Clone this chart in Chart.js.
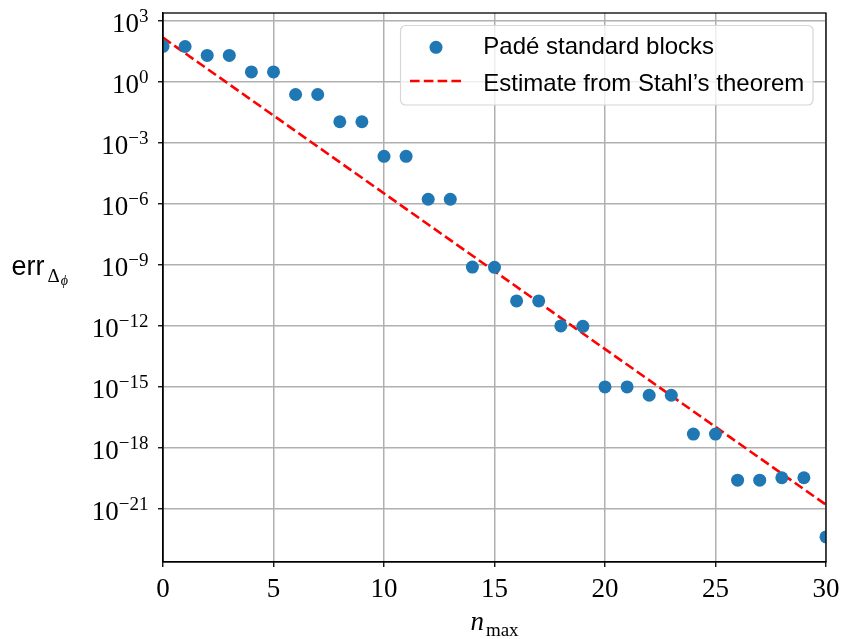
<!DOCTYPE html>
<html>
<head>
<meta charset="utf-8">
<script src="https://cdn.jsdelivr.net/npm/chart.js@4.4.1/dist/chart.umd.min.js"></script>
<style>
  html, body { margin: 0; padding: 0; background: #fff; }
  #wrap { width: 842px; height: 639px; }
</style>
</head>
<body>
<div id="wrap"><canvas id="errChart" width="842" height="639"></canvas></div>
<script>
// values
const nMax = [0, 1, 2, 3, 4, 5, 6, 7, 8, 9, 10, 11, 12, 13, 14, 15,
  16, 17, 18, 19, 20, 21, 22, 23, 24, 25, 26, 27, 28, 29, 30];
const padeErr = [56, 55, 20, 20, 3.1, 3.1, 0.24, 0.24, 1.1e-2, 1.1e-2,
  2.2e-4, 2.2e-4, 1.7e-6, 1.7e-6, 7.8e-10, 7.6e-10, 1.7e-11, 1.7e-11,
  1.0e-12, 9.5e-13, 1.0e-15, 1.0e-15, 3.9e-16, 3.9e-16, 4.8e-18, 4.8e-18,
  2.6e-20, 2.6e-20, 3.4e-20, 3.4e-20, 4.2e-23];
const stahlN = [0, 30];
const stahlErr = [1.5e2, 1.6e-21];

const xTicks = [0, 5, 10, 15, 20, 25, 30];
const yTicks = [1e3, 1e0, 1e-3, 1e-6, 1e-9, 1e-12, 1e-15, 1e-18, 1e-21];
const yMin = 2.45e-24;
const yMax = 2.45e3;

const serif = '"Liberation Serif", "DejaVu Serif", serif';
const sans = '"Liberation Sans", "DejaVu Sans", sans-serif';
const blue = '#1f77b4';
const dash = [9.6, 4.2];

const labels = {
  id: 'labels',
  afterDraw(chart) {
    const { ctx, chartArea: a, scales: { x, y } } = chart;
    ctx.save();
    ctx.strokeStyle = '#000';
    ctx.lineWidth = 1.3;
    ctx.strokeRect(a.left, a.top, a.right - a.left, a.bottom - a.top);

    ctx.fillStyle = '#000';
    ctx.textBaseline = 'alphabetic';

    // x tick labels
    ctx.font = '27px ' + serif;
    ctx.textAlign = 'center';
    for (const t of xTicks) ctx.fillText(String(t), x.getPixelForValue(t), a.bottom + 35);

    // y tick labels 10^e
    ctx.textAlign = 'left';
    const right = a.left - 14.5;
    for (const v of yTicks) {
      const e = Math.round(Math.log10(v));
      const py = y.getPixelForValue(v);
      const ex = (e < 0 ? '\u2212' : '') + Math.abs(e);
      ctx.font = '19px ' + serif;
      const ew = ctx.measureText(ex).width;
      ctx.fillText(ex, right - ew, py + 1);
      ctx.font = '27px ' + serif;
      const mw = ctx.measureText('10').width;
      ctx.fillText('10', right - ew - mw, py + 11);
    }

    // x title n_max
    ctx.font = 'italic 27px ' + serif;
    const nw = ctx.measureText('n').width;
    ctx.font = '19px ' + serif;
    const sw = ctx.measureText('max').width;
    const cx = (a.left + a.right) / 2;
    const x0 = cx - (nw + 2 + sw) / 2;
    ctx.font = 'italic 27px ' + serif;
    ctx.fillText('n', x0, a.bottom + 68);
    ctx.font = '19px ' + serif;
    ctx.fillText('max', x0 + nw + 2, a.bottom + 74);

    // y title err_{Delta_phi}
    ctx.font = '27px ' + sans;
    ctx.fillText('err', 11.5, 274.5);
    const errW = ctx.measureText('err').width;
    ctx.font = '19px ' + serif;
    ctx.fillText('\u0394', 11.5 + errW + 3, 281.5);
    const dW = ctx.measureText('\u0394').width;
    ctx.font = 'italic 14px ' + serif;
    ctx.fillText('\u03d5', 11.5 + errW + 3 + dW + 1, 285);

    // legend
    ctx.beginPath();
    ctx.roundRect(400.5, 25.5, 412.5, 79.5, 5);
    ctx.fillStyle = 'rgba(255,255,255,0.8)';
    ctx.fill();
    ctx.strokeStyle = '#d6d6d6';
    ctx.lineWidth = 1.2;
    ctx.stroke();

    ctx.fillStyle = blue;
    ctx.beginPath();
    ctx.arc(436, 47.3, 6.5, 0, Math.PI * 2);
    ctx.fill();

    ctx.strokeStyle = 'red';
    ctx.lineWidth = 2.6;
    ctx.setLineDash(dash);
    ctx.beginPath();
    ctx.moveTo(410, 81);
    ctx.lineTo(462, 81);
    ctx.stroke();
    ctx.setLineDash([]);

    ctx.fillStyle = '#000';
    ctx.font = '24px ' + sans;
    ctx.fillText('Pad\u00e9 standard blocks', 483.3, 54.3);
    ctx.fillText('Estimate from Stahl\u2019s theorem', 483.3, 91);
    ctx.restore();
  }
};

function buildChart(canvas) {
  return new Chart(canvas.getContext('2d'), {
    type: 'scatter',
    data: {
      datasets: [
        {
          label: 'Padé standard blocks',
          data: nMax.map((n, i) => ({ x: n, y: padeErr[i] })),
          backgroundColor: blue,
          borderColor: blue,
          borderWidth: 0,
          pointRadius: 6.5,
          clip: 0
        },
        {
          label: 'Estimate from Stahl\u2019s theorem',
          data: stahlN.map((n, i) => ({ x: n, y: stahlErr[i] })),
          showLine: true,
          borderColor: 'red',
          borderWidth: 2.6,
          borderDash: dash,
          pointRadius: 0,
          fill: false,
          clip: 0
        }
      ]
    },
    options: {
      responsive: false,
      animation: false,
      layout: { padding: { top: 13, right: 16, bottom: 0, left: 0 } },
      plugins: { legend: { display: false }, tooltip: { enabled: false } },
      scales: {
        x: {
          type: 'linear',
          min: 0,
          max: 30,
          afterBuildTicks: s => { s.ticks = xTicks.map(v => ({ value: v })); },
          afterFit: s => { s.height = 77; },
          ticks: { display: false },
          grid: { color: '#b0b0b0', lineWidth: 1.5, tickColor: '#000', tickLength: 5, tickWidth: 1.3 },
          border: { color: '#000', width: 1.3 }
        },
        y: {
          type: 'logarithmic',
          min: yMin,
          max: yMax,
          afterBuildTicks: s => { s.ticks = yTicks.map(v => ({ value: v })); },
          afterFit: s => { s.width = 163; },
          ticks: { display: false },
          grid: { color: '#b0b0b0', lineWidth: 1.5, tickColor: '#000', tickLength: 5, tickWidth: 1.3 },
          border: { color: '#000', width: 1.3 }
        }
      }
    },
    plugins: [labels]
  });
}

window.addEventListener('DOMContentLoaded', () => {
  buildChart(document.getElementById('errChart'));
});
</script>
</body>
</html>
